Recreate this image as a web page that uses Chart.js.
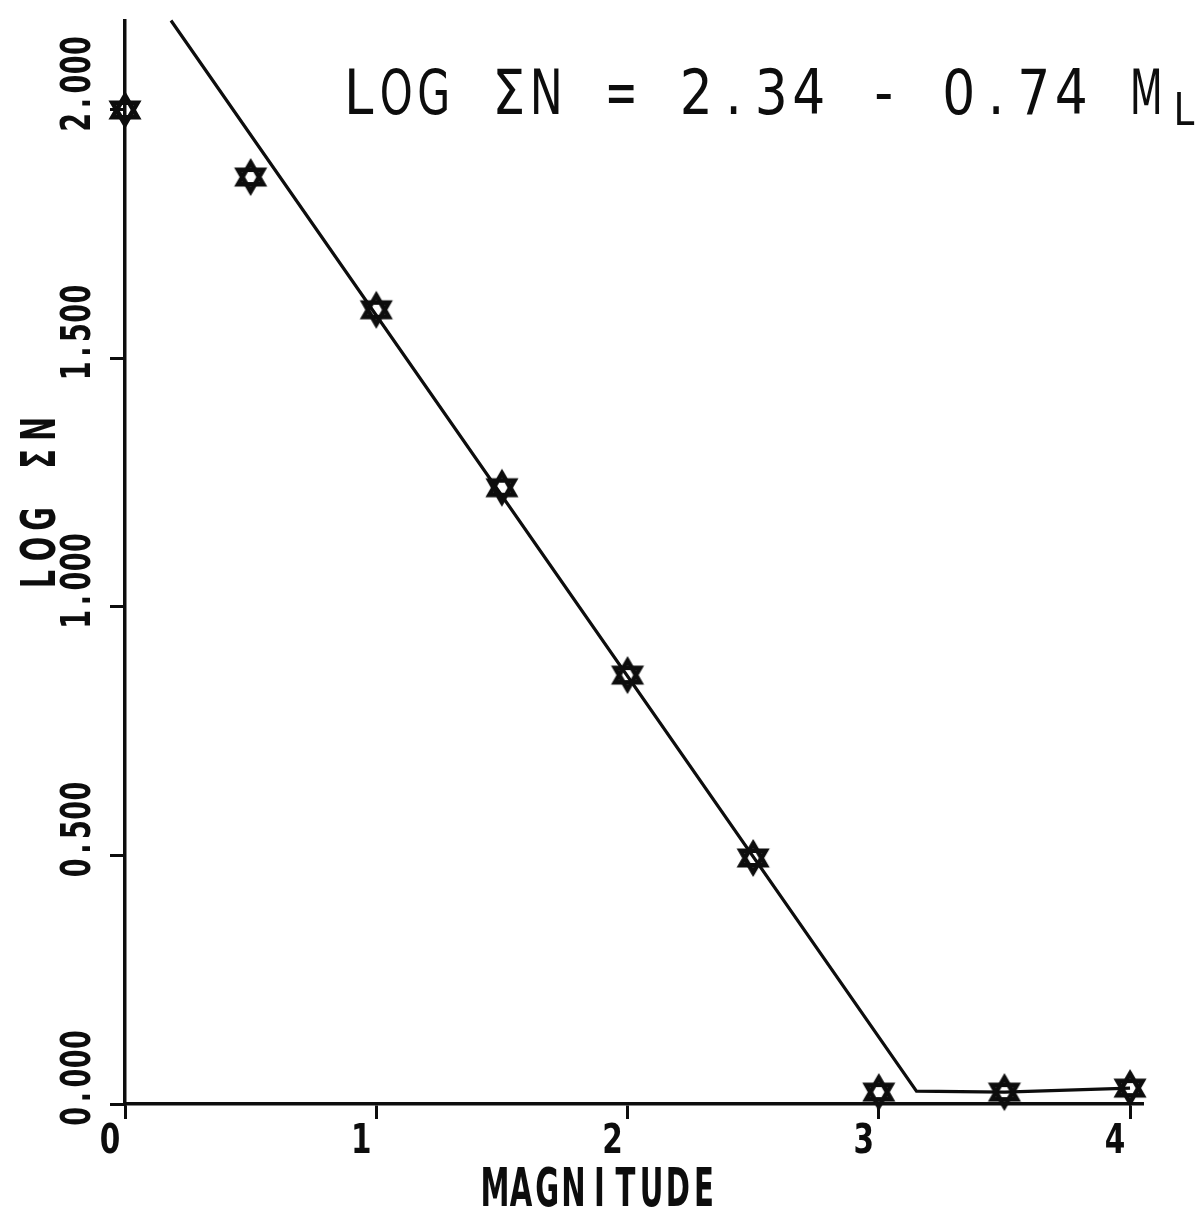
<!DOCTYPE html>
<html>
<head>
<meta charset="utf-8">
<script src="https://cdn.jsdelivr.net/npm/chart.js@4.4.1/dist/chart.umd.min.js"></script>
<style>
  html, body { margin: 0; padding: 0; background: #ffffff; }
  canvas { display: block; }
</style>
</head>
<body>
<canvas id="c" width="1202" height="1210"></canvas>
<script>
// ---- data ----
const magnitudes = [0, 0.5, 1, 1.5, 2, 2.5, 3, 3.5, 4];
const logSumN    = [2.0, 1.865, 1.598, 1.240, 0.863, 0.495, 0.024, 0.024, 0.032];
// drawn line (fit LOG ΣN = 2.34 - 0.74 ML, then running along the last points)
const lineM      = [0.183, 3.15, 3.5, 4.0];
const lineLog    = [2.18, 0.026, 0.024, 0.032];
// ticks
const xTickValues = [0, 1, 2, 3, 4];
const xTickLabels = ["0", "1", "2", "3", "4"];
const yTickValues = [0, 0.5, 1, 1.5, 2];
const yTickLabels = ["0.000", "0.500", "1.000", "1.500", "2.000"];
// texts
const xTitle = "MAGNITUDE";
const yTitle = "LOG ΣN";
const equationMain = "LOG ΣN = 2.34 - 0.74 M";
const equationSub = "L";

const INK = "#0d0d0d";
const SANS = '"DejaVu Sans", "Liberation Sans", sans-serif';

// hexagram marker
function makeHexagram() {
  const s = 40, c = s / 2, R = 14.5;
  const cv = document.createElement("canvas");
  cv.width = s; cv.height = s;
  const g = cv.getContext("2d");
  g.strokeStyle = INK;
  g.lineWidth = 4.6;
  g.lineJoin = "miter";
  const tri = (start) => {
    g.beginPath();
    for (let i = 0; i < 3; i++) {
      const a = (start + i * 120) * Math.PI / 180;
      const px = c + R * Math.cos(a), py = c + R * Math.sin(a);
      if (i === 0) g.moveTo(px, py); else g.lineTo(px, py);
    }
    g.closePath();
    g.stroke();
  };
  tri(-90);
  tri(90);
  return cv;
}
const hexagram = makeHexagram();

// draw text as a plotter would: fixed-pitch cells, each glyph centred and narrowed
// maxGlyphW = null -> uniform narrowing (keeps stroke weights even)
function drawCells(ctx, text, pitch, maxGlyphW, baseScale) {
  const chars = Array.from(text);
  chars.forEach((ch, i) => {
    if (ch === " ") return;
    const w = ctx.measureText(ch).width;
    const s = maxGlyphW ? Math.min(baseScale, maxGlyphW / w) : baseScale;
    ctx.save();
    ctx.translate(pitch * i + pitch / 2, 0);
    ctx.scale(s, 1);
    ctx.textAlign = "center";
    ctx.fillText(ch, 0, 0);
    ctx.restore();
  });
}

const textPlugin = {
  id: "plotterText",
  afterDraw(chart) {
    const ctx = chart.ctx;
    const xs = chart.scales.x, ys = chart.scales.y;
    ctx.save();
    ctx.fillStyle = INK;
    ctx.textBaseline = "alphabetic";

    // y tick labels (rotated, reading upward)
    ctx.font = "bold 41px " + SANS;
    yTickValues.forEach((v, i) => {
      const py = ys.getPixelForValue(v);
      ctx.save();
      ctx.translate(90, py + 22);
      ctx.rotate(-Math.PI / 2);
      drawCells(ctx, yTickLabels[i], 19.2, null, 0.66);
      ctx.restore();
    });

    // x tick labels
    ctx.font = "bold 41px " + SANS;
    xTickValues.forEach((v, i) => {
      const px = xs.getPixelForValue(v) - 15;
      ctx.save();
      ctx.translate(px - 10, 1153);
      drawCells(ctx, xTickLabels[i], 20, null, 0.72);
      ctx.restore();
    });

    // x title
    ctx.font = "bold 53px " + SANS;
    ctx.save();
    ctx.translate(482, 1206);
    drawCells(ctx, xTitle, 26.1, null, 0.55);
    ctx.restore();

    // y title (rotated)
    ctx.font = "bold 48px " + SANS;
    ctx.save();
    ctx.translate(55, 594);
    ctx.rotate(-Math.PI / 2);
    drawCells(ctx, yTitle, 30, null, 0.6);
    ctx.restore();

    // equation
    ctx.font = "62px " + SANS;
    ctx.save();
    ctx.translate(340, 114);
    drawCells(ctx, equationMain, 37.5, 33, 0.85);
    ctx.restore();
    ctx.font = "44px " + SANS;
    ctx.save();
    ctx.translate(1172, 125);
    drawCells(ctx, equationSub, 24, 22, 0.85);
    ctx.restore();

    ctx.restore();
  }
};

new Chart(document.getElementById("c"), {
  type: "scatter",
  data: {
    datasets: [
      {
        label: "fit",
        data: lineM.map((m, i) => ({ x: m, y: lineLog[i] })),
        showLine: true,
        borderColor: INK,
        borderWidth: 3.2,
        pointRadius: 0,
        tension: 0,
        fill: false,
        clip: false,
        order: 2
      },
      {
        label: "observed",
        data: magnitudes.map((m, i) => ({ x: m, y: logSumN[i] })),
        showLine: false,
        pointStyle: hexagram,
        pointRadius: 16,
        borderColor: INK,
        backgroundColor: INK,
        clip: false,
        order: 1
      }
    ]
  },
  options: {
    responsive: false,
    devicePixelRatio: 1,
    animation: false,
    events: [],
    layout: { padding: { top: 20.5, right: 59.4, left: 0, bottom: 0 } },
    plugins: { legend: { display: false }, tooltip: { enabled: false } },
    scales: {
      x: {
        type: "linear",
        min: 0,
        max: 4.05,
        afterFit(scale) { scale.height = 106; },
        afterBuildTicks(scale) { scale.ticks = xTickValues.map(v => ({ value: v })); },
        ticks: { display: false, includeBounds: false },
        border: { display: true, color: INK, width: 3.5 },
        grid: { display: true, drawOnChartArea: false, drawTicks: true, tickLength: 15, tickWidth: 3, color: INK, lineWidth: 3 },
        title: { display: false }
      },
      y: {
        type: "linear",
        min: 0,
        max: 2.18,
        afterFit(scale) { scale.width = 125; },
        afterBuildTicks(scale) { scale.ticks = yTickValues.map(v => ({ value: v })); },
        ticks: { display: false, includeBounds: false },
        border: { display: true, color: INK, width: 3.5 },
        grid: { display: true, drawOnChartArea: false, drawTicks: true, tickLength: 15, tickWidth: 3, color: INK, lineWidth: 3 },
        title: { display: false }
      }
    }
  },
  plugins: [textPlugin]
});
</script>
</body>
</html>
